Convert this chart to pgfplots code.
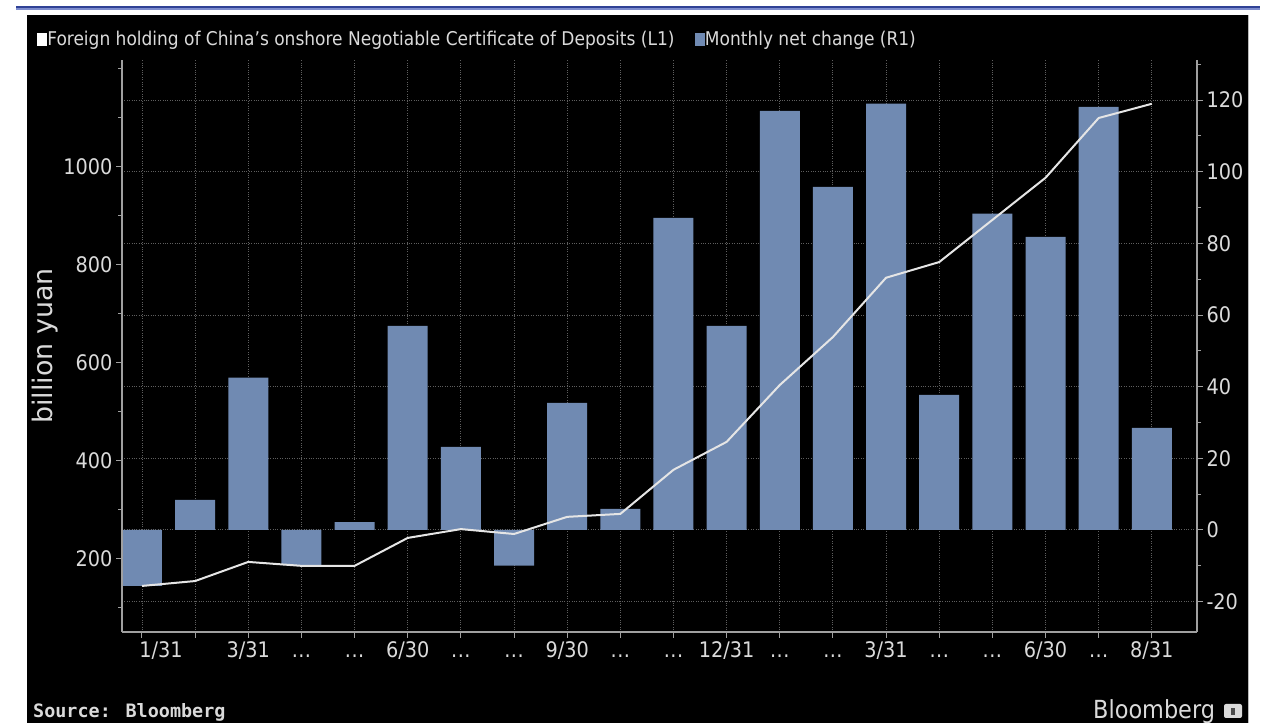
\documentclass[border=0pt]{standalone}
\usepackage{pgfplots}
\pgfplotsset{compat=1.18}
\usepackage{fontspec}
\setmainfont{DejaVu Sans Condensed}
\newfontfamily\plainsans{DejaVu Sans}
\newfontfamily\monofont{DejaVu Sans Mono}

\definecolor{barblue}{RGB}{112,138,178}
\definecolor{txt}{RGB}{218,218,218}
\definecolor{axgray}{RGB}{160,160,160}
\definecolor{gridgray}{RGB}{95,95,95}
\definecolor{topblue}{RGB}{48,66,150}
\definecolor{topblue2}{RGB}{125,140,205}

% the "..." labels, kept on the digits' baseline
\newcommand{\dd}{\vphantom{0}.\kern0.5bp.\kern0.5bp.}

\pgfplotsset{
  bbg/.style={
    at={(122bp,93bp)}, anchor=south west,
    scale only axis, width=1075bp, height=572bp,
    xmin=-0.376, xmax=19.85,
    axis line style={axgray, line width=1.2bp, -},
    tick align=outside, major tick length=6bp, minor tick length=4bp,
    tick style={axgray, line width=1bp},
    tick label style={font=\fontsize{21.5}{24}\selectfont, text=txt},
    /pgf/number format/assume math mode=true,
    /pgf/number format/1000 sep={},
  }
}

\begin{document}
\begin{tikzpicture}[x=1bp,y=1bp]
\fill[white] (0,0) rectangle (1274,725);
\fill[black] (27,2) rectangle (1248,710);
\draw[gray!55, line width=1bp] (1248,2) -- (1248,710);
\fill[topblue] (16,717) rectangle (1260,718.8);
\fill[topblue2] (16,715.2) rectangle (1260,717);

% monthly net change, right axis
\begin{axis}[bbg,
  ymin=-28.5, ymax=131.2,
  axis y line*=right, axis x line*=bottom,
  ytick={-20,0,...,120}, minor ytick={-10,10,...,130},
  xtick={0,...,19},
  xticklabels={{\hspace*{38bp}1/31},{},3/31,\dd,\dd,6/30,\dd,\dd,9/30,\dd,\dd,12/31,\dd,\dd,3/31,\dd,\dd,6/30,\dd,8/31},
  xmajorgrids, ymajorgrids,
  grid style={gridgray, dotted, line width=0.9bp},
]
\addplot[ybar, bar width=40bp, fill=barblue, draw=none] coordinates {
  (0,-15.6) (1,8.4) (2,42.5) (3,-9.8) (4,2.2) (5,57.0) (6,23.2) (7,-10.0)
  (8,35.5) (9,5.9) (10,87.1) (11,57.0) (12,117.0) (13,95.8) (14,119.0)
  (15,37.7) (16,88.3) (17,81.8) (18,118.1) (19,28.5)};
\end{axis}

% foreign holding, left axis
\begin{axis}[bbg,
  ymin=51, ymax=1218.4,
  axis y line*=left, axis x line=none,
  ytick={200,400,...,1000}, minor ytick={100,300,...,1100,1200},
  ylabel={billion yuan},
  ylabel style={at={(axis description cs:-0.0716,0.5)}, anchor=center,
    font=\plainsans\fontsize{27}{29}\selectfont, text=txt},
  legend columns=2,
  legend style={at={(axis description cs:-0.0791,1.0367)}, anchor=west,
    draw=none, fill=none, inner sep=0pt, outer sep=0pt,
    font=\fontsize{19}{21}\selectfont, text=txt,
    nodes={inner sep=1bp}, column sep=0bp,
    /tikz/every even column/.append style={column sep=19bp}},
  legend cell align=left,
]
\addlegendimage{legend image code/.code={\fill[white] (0bp,-6bp) rectangle (9bp,6bp);}}
\addlegendentry{Foreign holding of China's onshore Negotiable Certificate of Deposits (L1)}
\addlegendimage{legend image code/.code={\fill[barblue] (0bp,-6bp) rectangle (9bp,6bp);}}
\addlegendentry{Monthly net change (R1)}
\addplot[draw=white!90!black, line width=2bp, forget plot] coordinates {
  (0,145) (1,155) (2,194) (3,186) (4,186) (5,243) (6,261) (7,251)
  (8,286) (9,292) (10,382) (11,439) (12,555) (13,653) (14,774)
  (15,806) (16,892) (17,978) (18,1100) (19,1129)};
\end{axis}

\node[anchor=base west, inner sep=0pt, text=txt] at (33,7)
  {\monofont\bfseries\fontsize{18.5}{20}\selectfont Source: Bloomberg};
\node[anchor=base west, inner sep=0pt, text=txt] at (1093,6)
  {\fontsize{25}{27}\selectfont Bloomberg};
\fill[txt, rounded corners=2bp] (1224,7) rectangle (1242,21);
\fill[black!70] (1231,10) rectangle (1235,17);
\end{tikzpicture}
\end{document}
